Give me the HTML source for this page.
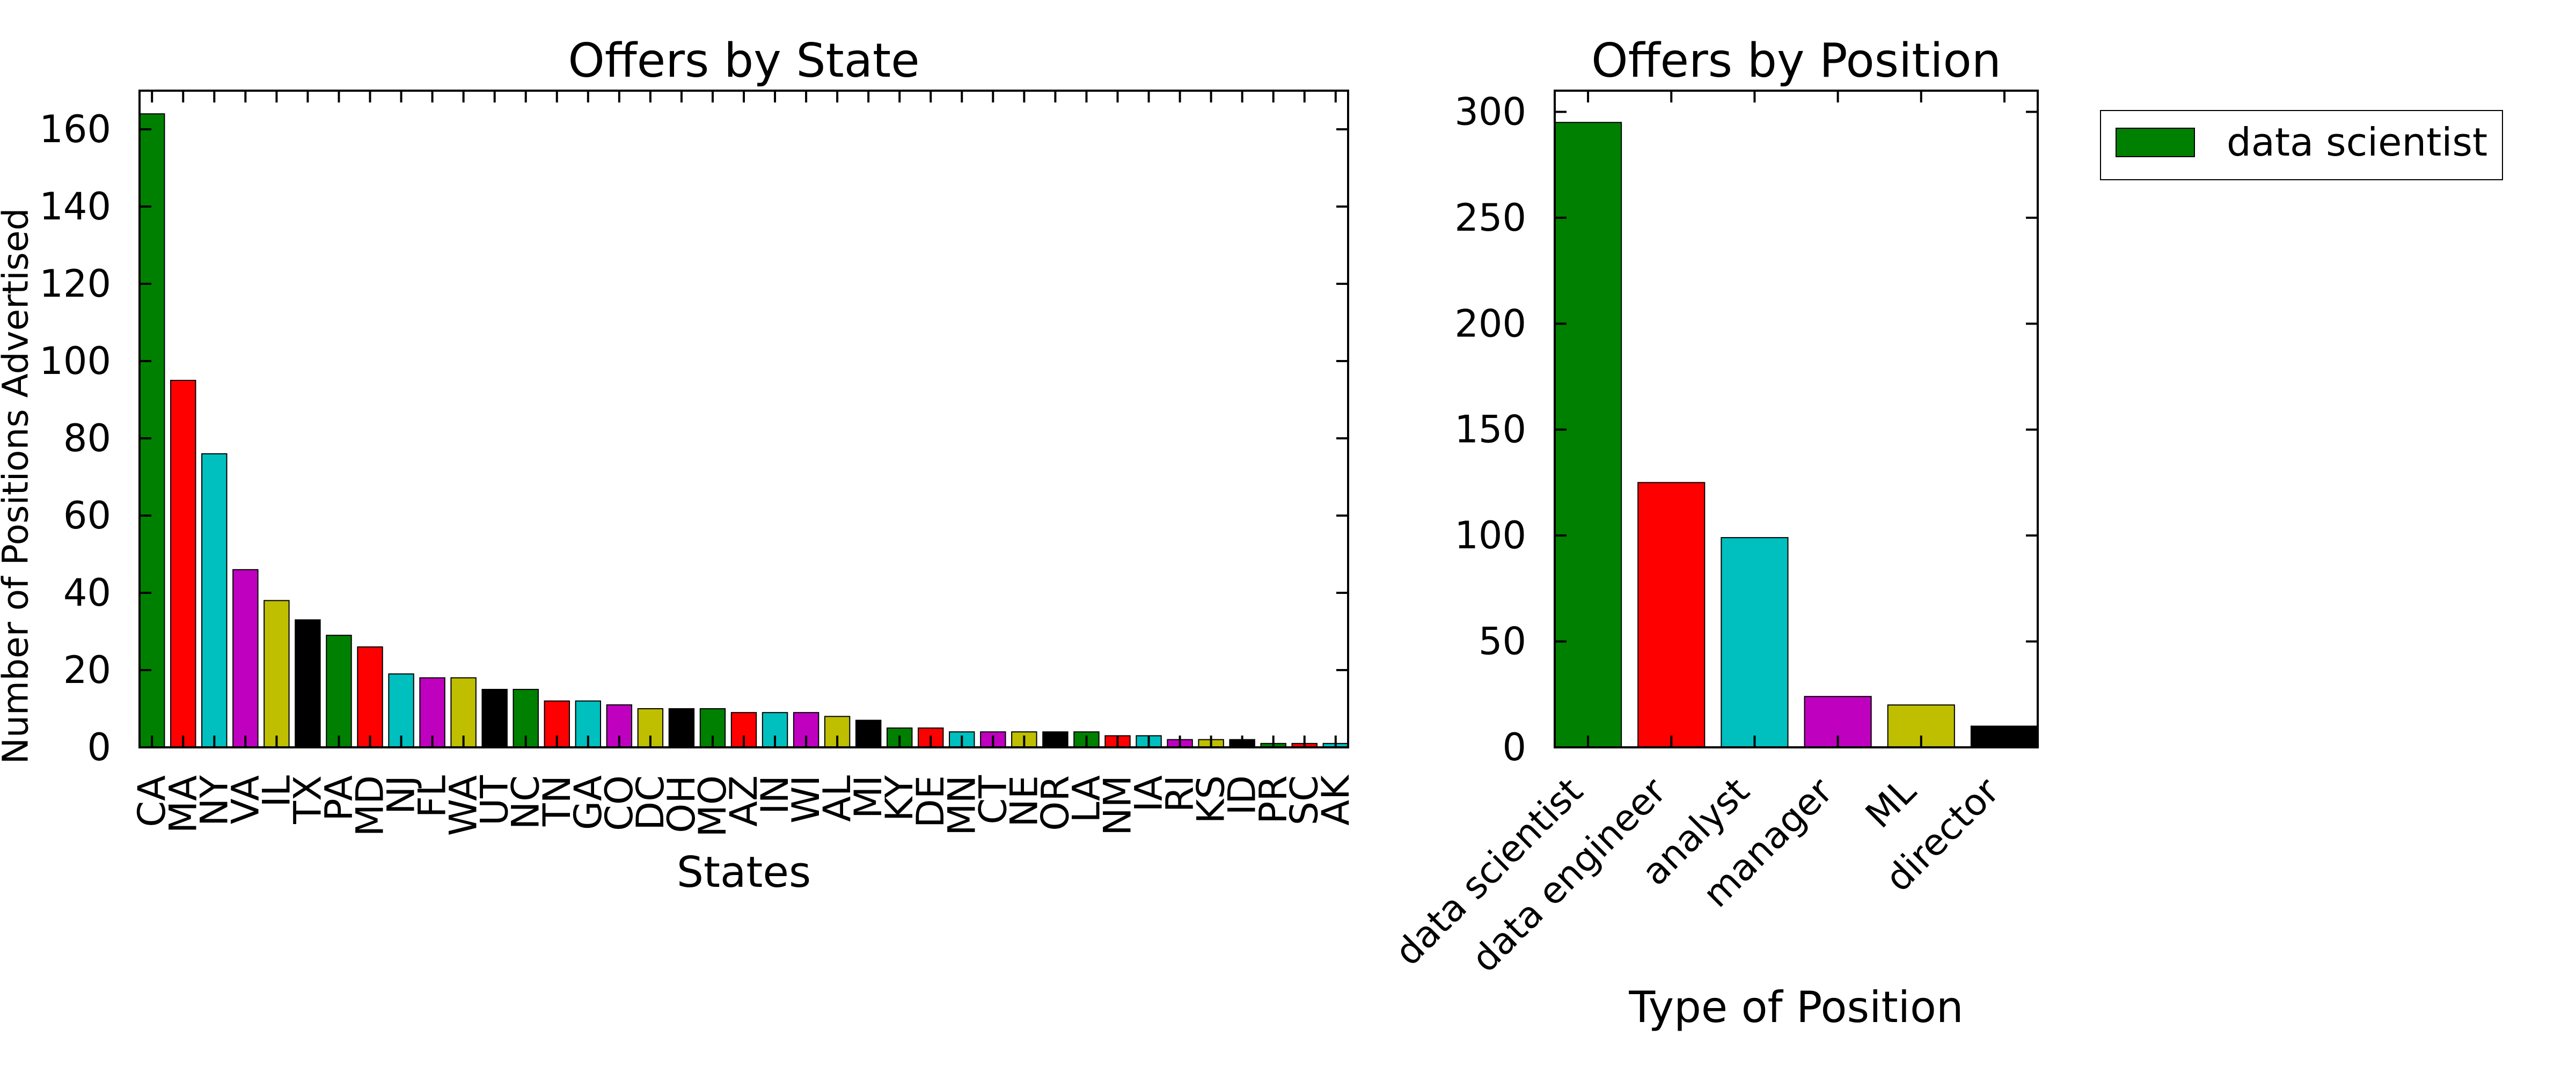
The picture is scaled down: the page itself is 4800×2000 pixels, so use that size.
<!DOCTYPE html>
<html><head><meta charset="utf-8"><style>
html,body{margin:0;padding:0;background:#fff;}
svg{display:block;font-family:"DejaVu Sans","Liberation Sans",sans-serif;}
</style></head><body>
<svg id="chart" width="4800" height="2000" viewBox="0 0 4800 2000" xmlns="http://www.w3.org/2000/svg">
<rect x="0" y="0" width="4800" height="2000" fill="#fff"/>
<g id="left"></g>
<g id="right"></g>
<g id="legend"></g>
</svg>
<script>
const states = ["CA","MA","NY","VA","IL","TX","PA","MD","NJ","FL","WA","UT","NC","TN","GA","CO","DC","OH","MO","AZ","IN","WI","AL","MI","KY","DE","MN","CT","NE","OR","LA","NM","IA","RI","KS","ID","PR","SC","AK"];
const stateCounts = [164,95,76,46,38,33,29,26,19,18,18,15,15,12,12,11,10,10,10,9,9,9,8,7,5,5,4,4,4,4,4,3,3,2,2,2,1,1,1];
const stateTicks = [0,20,40,60,80,100,120,140,160];
const positions = ["data scientist","data engineer","analyst","manager","ML","director"];
const positionCounts = [295,125,99,24,20,10];
const positionTicks = [0,50,100,150,200,250,300];
const palette = ["#008000","#ff0000","#00bfbf","#bf00bf","#bfbf00","#000000"];

const NS = "http://www.w3.org/2000/svg";
function mk(parent, tag, attrs, text){
  const e = document.createElementNS(NS, tag);
  for (const k in attrs) e.setAttribute(k, attrs[k]);
  if (text !== undefined) e.textContent = text;
  parent.appendChild(e);
  return e;
}

function drawChart(g, cfg){
  const {L,R,T,B,cats,vals,ticks,ymax,title,xlabel,rot} = cfg;
  const n = cats.length;
  const xmax = n - 1 + 0.8;
  const xs = v => L + (v / xmax) * (R - L);
  const ys = v => B - (v / ymax) * (B - T);
  cats.forEach((c, i) => {
    const r = mk(g, "rect", {x: xs(i), y: ys(vals[i]), width: xs(i + 0.8) - xs(i), height: B - ys(vals[i]), fill: palette[i % palette.length], stroke: "#000", "stroke-width": 2});
    
    
  });
  const f = mk(g, "rect", {x: L, y: T, width: R - L, height: B - T, fill: "none", stroke: "#000", "stroke-width": 4});
  
  
  ticks.forEach(t => {
    const y = ys(t);
    mk(g, "line", {x1: L, x2: L + 22, y1: y, y2: y, stroke: "#000", "stroke-width": 4});
    mk(g, "line", {x1: R - 22, x2: R, y1: y, y2: y, stroke: "#000", "stroke-width": 4});
    const tl = mk(g, "text", {x: cfg.tickRight, y: y, "text-anchor": "end", "dominant-baseline": "central", "font-size": 70}, t);
    
    
  });
  cats.forEach((c, i) => {
    const x = xs(i + 0.4);
    mk(g, "line", {x1: x, x2: x, y1: B, y2: B - 22, stroke: "#000", "stroke-width": 4});
    mk(g, "line", {x1: x, x2: x, y1: T, y2: T + 22, stroke: "#000", "stroke-width": 4});
    let tl;
    if (rot === 90) {
      tl = mk(g, "text", {x: x, y: B + 52, "text-anchor": "end", "dominant-baseline": "central", "font-size": 70, transform: `rotate(-90 ${x} ${B + 52})`}, c);
    } else {
      const ax = x - 22, ay = B + 70;
      tl = mk(g, "text", {x: ax, y: ay, "text-anchor": "end", "dominant-baseline": "central", "font-size": 68, transform: `rotate(-45 ${ax} ${ay})`}, c);
    }
    
    
  });
  const tt = mk(g, "text", {x: (L + R) / 2, y: 143, "text-anchor": "middle", "font-size": 87}, title);
  
  
  const xl = mk(g, "text", {x: (L + R) / 2, y: cfg.xlabelY, "text-anchor": "middle", "font-size": cfg.xlabelSize}, xlabel);
  
  
}

drawChart(document.getElementById("left"), {L:260,R:2512,T:169,B:1393,cats:states,vals:stateCounts,ticks:stateTicks,ymax:170,title:"Offers by State",xlabel:"States",rot:90,xlabelY:1653,xlabelSize:79,tickRight:207});
drawChart(document.getElementById("right"), {L:2897,R:3797,T:169,B:1393,cats:positions,vals:positionCounts,ticks:positionTicks,ymax:310,title:"Offers by Position",xlabel:"Type of Position",rot:45,xlabelY:1905,xlabelSize:80,tickRight:2844});

const yl = mk(document.getElementById("left"), "text", {x: 29, y: 906, "text-anchor": "middle", "dominant-baseline": "central", "font-size": 66, transform: "rotate(-90 29 906)"}, "Number of Positions Advertised");



const lg = document.getElementById("legend");
const lb = mk(lg, "rect", {x: 3914, y: 206, width: 749, height: 129, fill: "#fff", stroke: "#000", "stroke-width": 2});


const lp = mk(lg, "rect", {x: 3943, y: 239, width: 146, height: 53, fill: palette[0], stroke: "#000", "stroke-width": 2});


const lt = mk(lg, "text", {x: 4149, y: 265, "dominant-baseline": "central", "font-size": 72}, "data scientist");


</script>
</body></html>
